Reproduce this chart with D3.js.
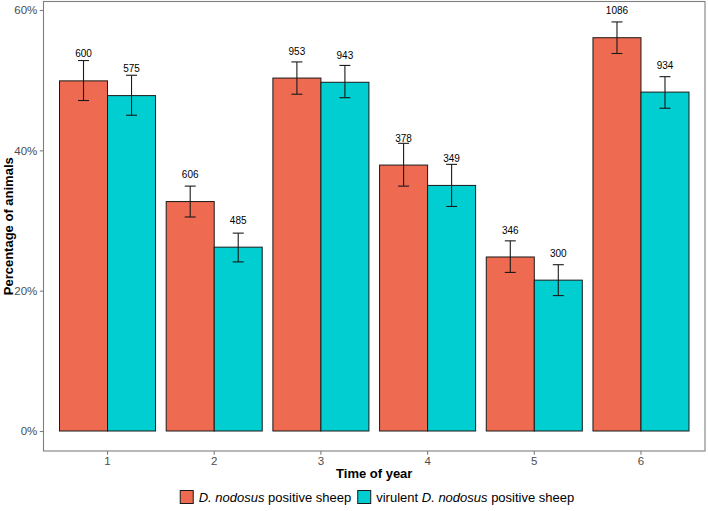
<html>
  <head>
    <meta charset="utf-8"/>
    <style>
      body {
        margin: 0;
        background: white;
      }
      text {
        font-family: "Liberation Sans", Arial, sans-serif;
      }
    </style>
    <script src="https://d3js.org/d3.v7.min.js"></script>
  </head>
  <body>
    <script>
    // time of year groups
    var categories = ["1", "2", "3", "4", "5", "6"];
    var series = ["pos", "vir"];

    // D. nodosus positive sheep (%)
    var posValues = [49.9, 32.7, 50.3, 37.9, 24.8, 56.05];
    var posLow    = [47.1, 30.5, 48.0, 34.9, 22.6, 53.8];
    var posHigh   = [52.8, 34.9, 52.6, 41.0, 27.1, 58.3];
    var posCounts = [600, 606, 953, 378, 346, 1086];

    // virulent D. nodosus positive sheep (%)
    var virValues = [47.8, 26.2, 49.7, 35.0, 21.5, 48.3];
    var virLow    = [45.0, 24.1, 47.5, 32.0, 19.3, 46.0];
    var virHigh   = [50.7, 28.2, 52.1, 38.0, 23.7, 50.5];
    var virCounts = [575, 485, 943, 349, 300, 934];

    var yTicks = [0, 20, 40, 60];

    var width = 708, height = 511;
    var colors = {pos: "#EE6A50", vir: "#00CED1"};

    var data = [];
    categories.forEach(function(c, i) {
      data.push({cat: c, s: "pos", v: posValues[i], lo: posLow[i], hi: posHigh[i], n: posCounts[i]});
      data.push({cat: c, s: "vir", v: virValues[i], lo: virLow[i], hi: virHigh[i], n: virCounts[i]});
    });

    var panel = {left: 43.5, right: 705, top: 1.5, bottom: 451};

    var x = d3.scaleBand()
      .domain(categories)
      .range([panel.left, panel.right])
      .paddingInner(0.1)
      .paddingOuter(0.15);

    var xs = d3.scaleBand()
      .domain(series)
      .range([0, x.bandwidth()]);

    var y = d3.scaleLinear()
      .domain([0, 60])
      .range([431, 10]);

    var svg = d3.select("body").append("svg")
      .attr("width", width)
      .attr("height", height);

    // bars
    svg.append("g").selectAll("rect")
      .data(data)
      .enter()
      .append("rect")
      .attr("x", d => x(d.cat) + xs(d.s))
      .attr("y", d => y(d.v))
      .attr("width", xs.bandwidth())
      .attr("height", d => y(0) - y(d.v))
      .attr("fill", d => colors[d.s])
      .attr("stroke", "#1a1a1a")
      .attr("stroke-width", 1);

    // error bars
    var capHalf = 5.5;
    var eb = svg.append("g")
      .attr("stroke", "#1a1a1a")
      .attr("stroke-width", 1.1)
      .selectAll("g")
      .data(data)
      .enter()
      .append("g")
      .attr("transform", d => "translate(" + (x(d.cat) + xs(d.s) + xs.bandwidth() / 2) + ",0)");
    eb.append("line")
      .attr("y1", d => y(d.lo)).attr("y2", d => y(d.hi));
    eb.append("line")
      .attr("x1", -capHalf).attr("x2", capHalf)
      .attr("y1", d => y(d.lo)).attr("y2", d => y(d.lo));
    eb.append("line")
      .attr("x1", -capHalf).attr("x2", capHalf)
      .attr("y1", d => y(d.hi)).attr("y2", d => y(d.hi));

    // count labels
    svg.append("g").selectAll("text")
      .data(data)
      .enter()
      .append("text")
      .attr("x", d => x(d.cat) + xs(d.s) + xs.bandwidth() / 2)
      .attr("y", d => y(d.v + 3.85) + 3.6)
      .attr("text-anchor", "middle")
      .attr("font-size", 10)
      .attr("fill", "#000")
      .text(d => d.n);

    // panel border
    svg.append("rect")
      .attr("x", panel.left)
      .attr("y", panel.top)
      .attr("width", panel.right - panel.left)
      .attr("height", panel.bottom - panel.top)
      .attr("fill", "none")
      .attr("stroke", "#7f7f7f")
      .attr("stroke-width", 1.1);

    // axes
    var yAxis = svg.append("g")
      .attr("transform", "translate(" + panel.left + ",0)")
      .call(d3.axisLeft(y).tickValues(yTicks).tickFormat(d => d + "%").tickSize(3.7).tickPadding(2.5));
    var xAxis = svg.append("g")
      .attr("transform", "translate(0," + panel.bottom + ")")
      .call(d3.axisBottom(x).tickSize(3.7).tickPadding(2.5));
    [xAxis, yAxis].forEach(function(a) {
      a.select(".domain").remove();
      a.selectAll(".tick line").attr("stroke", "#7f7f7f").attr("stroke-width", 1.1);
      a.selectAll(".tick text")
        .attr("fill", "#4d4d4d")
        .attr("font-size", 11.5)
        .attr("font-family", "'Liberation Sans', Arial, sans-serif");
    });

    // axis titles
    svg.append("text")
      .attr("x", (panel.left + panel.right) / 2)
      .attr("y", 477.5)
      .attr("text-anchor", "middle")
      .attr("font-size", 13)
      .attr("font-weight", "bold")
      .text("Time of year");

    svg.append("text")
      .attr("transform", "translate(12.5," + (panel.top + panel.bottom) / 2 + ") rotate(-90)")
      .attr("text-anchor", "middle")
      .attr("font-size", 13)
      .attr("font-weight", "bold")
      .text("Percentage of animals");

    // legend
    var legendItems = [
      {s: "pos", pre: "", it: "D. nodosus", post: " positive sheep"},
      {s: "vir", pre: "virulent ", it: "D. nodosus", post: " positive sheep"}
    ];
    var legend = svg.append("g");
    var lx = 0;
    legendItems.forEach(function(item) {
      var g = legend.append("g").attr("transform", "translate(" + lx + ",0)");
      g.append("rect")
        .attr("x", 0.5).attr("y", -6.5)
        .attr("width", 13).attr("height", 13)
        .attr("fill", colors[item.s])
        .attr("stroke", "#1a1a1a")
        .attr("stroke-width", 1);
      var t = g.append("text")
        .attr("x", 19)
        .attr("y", 4.6)
        .attr("font-size", 13);
      t.append("tspan").text(item.pre);
      t.append("tspan").attr("font-style", "italic").text(item.it);
      t.append("tspan").text(item.post);
      lx += 19 + t.node().getComputedTextLength() + 6;
    });
    var lw = lx - 6;
    legend.attr("transform", "translate(" + (377 - lw / 2) + ",497)");
    </script>
  </body>
</html>
